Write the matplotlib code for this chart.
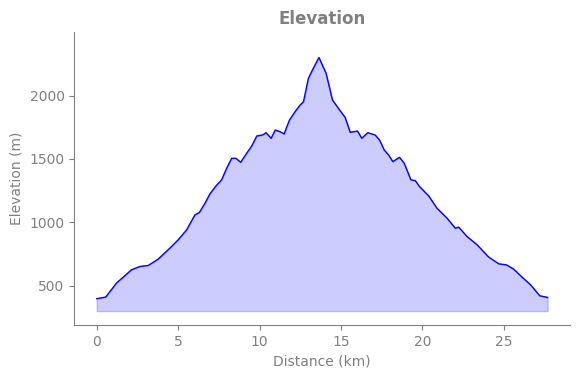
import matplotlib
matplotlib.use("Agg")
import matplotlib.pyplot as plt

# distance (km) and elevation (m)
distance = [0.0, 0.55, 1.21, 2.13, 2.65, 3.16, 3.77, 4.49, 5.0, 5.52, 6.03, 6.3,
            6.65, 6.95, 7.32, 7.67, 7.98, 8.29, 8.55, 8.84, 9.21, 9.52, 9.83,
            10.19, 10.4, 10.71, 10.97, 11.26, 11.51, 11.84, 12.18, 12.49, 12.7,
            13.0, 13.3, 13.65, 14.09, 14.48, 14.95, 15.26, 15.57, 16.02, 16.28,
            16.65, 17.1, 17.37, 17.66, 17.93, 18.19, 18.6, 18.89, 19.3, 19.57,
            19.83, 20.39, 20.9, 21.52, 22.03, 22.24, 22.75, 23.37, 24.08, 24.7,
            25.17, 25.62, 26.13, 26.65, 27.22, 27.7]
elevation = [398, 411, 521, 626, 652, 660, 710, 797, 862, 941, 1059, 1077,
             1151, 1224, 1287, 1335, 1427, 1505, 1505, 1474, 1545, 1602, 1681,
             1689, 1707, 1663, 1728, 1715, 1697, 1807, 1872, 1925, 1951,
             2135, 2214, 2300, 2175, 1965, 1880, 1828, 1710, 1720, 1663,
             1707, 1689, 1650, 1571, 1531, 1479, 1513, 1466, 1335, 1329,
             1282, 1209, 1112, 1033, 954, 962, 888, 823, 726, 673,
             665, 631, 568, 508, 421, 408]
base = 300

grey = "#808080"

fig, ax = plt.subplots(figsize=(5.8, 3.78), dpi=100)
fig.subplots_adjust(left=0.128, right=0.983, bottom=0.14, top=0.915)

ax.fill_between(distance, elevation, base, color="blue", alpha=0.2)
ax.plot(distance, elevation, color="blue", linewidth=1.0)

ax.set_ylim(190, 2500)
ax.set_xticks([0, 5, 10, 15, 20, 25])
ax.set_yticks([500, 1000, 1500, 2000])

ax.set_title("Elevation", color=grey, fontsize=12, fontweight="bold")
ax.set_xlabel("Distance (km)", color=grey)
ax.set_ylabel("Elevation (m)", color=grey)

for side in ["top", "right"]:
    ax.spines[side].set_visible(False)
for side in ["left", "bottom"]:
    ax.spines[side].set_color(grey)
ax.tick_params(colors=grey)

fig.savefig("out.png")
